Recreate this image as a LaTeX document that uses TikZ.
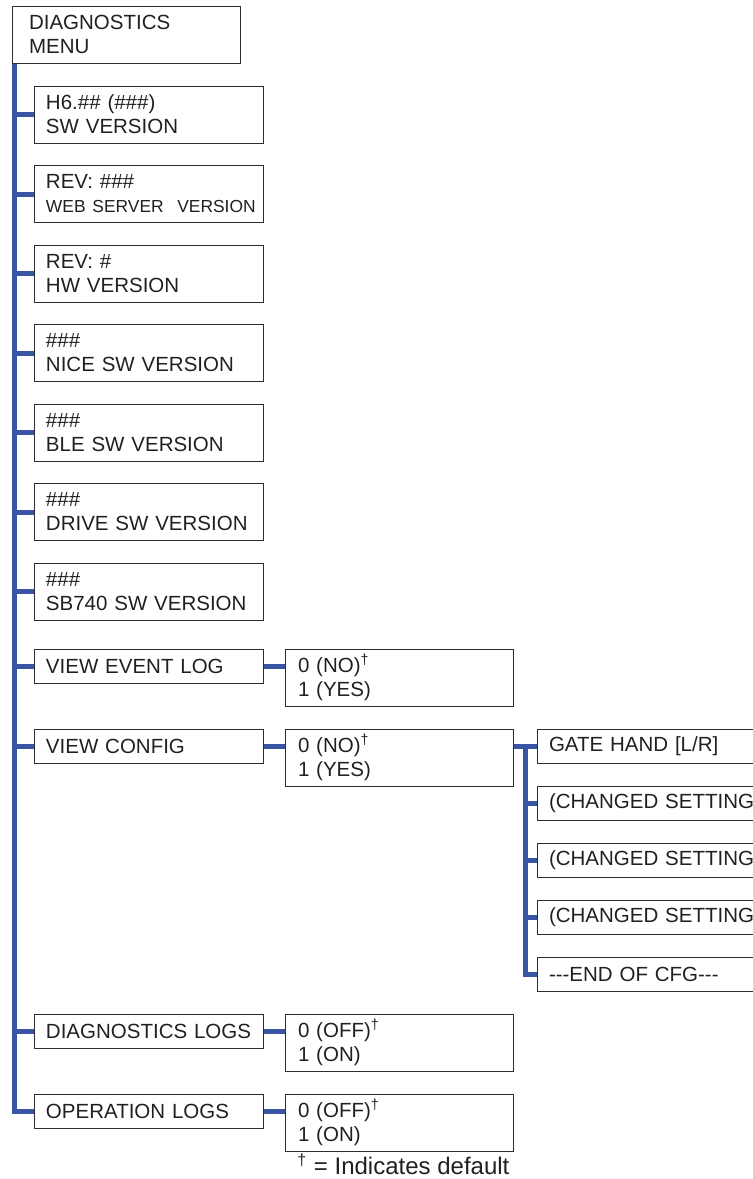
\documentclass[tikz,border=0pt]{standalone}
\usepackage{fontspec}
\setmainfont{Liberation Sans}
\usepackage{xcolor}
\usepackage{tikz}
\usetikzlibrary{positioning,backgrounds}
\definecolor{busblue}{RGB}{57,86,165}
\definecolor{boxgray}{RGB}{45,45,45}
\definecolor{inkgray}{RGB}{35,31,32}
\newcommand{\dflt}{\textsuperscript{†}}
\newcommand{\hy}{-\kern0pt}

\begin{document}
\begin{tikzpicture}[
  node distance=11.25pt,
  bus/.style={draw=busblue, line width=2.5pt},
  m/.style={draw=boxgray, line width=0.5pt, text=inkgray, align=left,
            font=\fontsize{10.25}{12}\selectfont, inner ysep=0pt, outer sep=0pt},
  two/.style={minimum height=28.5pt},
  one/.style={minimum height=17pt},
  item/.style={m, text width=102.5pt, inner xsep=6pt},
  val/.style={m, two, text width=101pt, inner xsep=6.5pt},
  cfgitem/.style={m, one, text width=120pt, inner xsep=6pt}]
\useasboundingbox (0,0) rectangle (376.5pt,-589.5pt);
\clip (0,0) rectangle (376.5pt,-589.5pt);
% main column
\node[m, two, text width=97pt, inner xsep=8.5pt, anchor=north west] (menu) at (6pt,-3pt) {DIAGNOSTICS\\MENU};
\node[item, two, anchor=north west] (swver) at (17pt,-43pt) {H6.\#\# (\#\#\#)\\SW VERSION};
\node[item, two, below=of swver] (websrv) {REV: \#\#\#\\\hbox{\fontsize{8.7}{12}\selectfont WEB SERVER\ \ VERSION}};
\node[item, two, below=of websrv] (hwver) {REV: \#\\HW VERSION};
\node[item, two, below=of hwver] (nicever) {\#\#\#\\NICE SW VERSION};
\node[item, two, below=of nicever] (blever) {\#\#\#\\BLE SW VERSION};
\node[item, two, below=of blever] (drvver) {\#\#\#\\DRIVE SW VERSION};
\node[item, two, below=of drvver] (sbver) {\#\#\#\\SB740 SW VERSION};
\node[item, one, below=14.5pt of sbver] (evtlog) {VIEW EVENT LOG};
\node[item, one, below=23pt of evtlog] (viewcfg) {VIEW CONFIG};
% values
\node[val, right=11pt of evtlog.north east, anchor=north west] (evtval) {0 (NO)\dflt\\1 (YES)};
\node[val, right=11pt of viewcfg.north east, anchor=north west] (cfgval) {0 (NO)\dflt\\1 (YES)};
% config list
\node[cfgitem, right=12pt of cfgval.north east, anchor=north west] (gatehand) {GATE HAND [L/R]};
\node[cfgitem, below=11.5pt of gatehand] (chg1) {(CHANGED SETTING};
\node[cfgitem, below=11.5pt of chg1] (chg2) {(CHANGED SETTING};
\node[cfgitem, below=11.5pt of chg2] (chg3) {(CHANGED SETTING};
\node[cfgitem, below=11.5pt of chg3] (cfgend) {\hy\hy\hy END OF CFG\hy\hy-};
% logs
\node[item, one, anchor=north west, yshift=-11.5pt] (diaglog) at (sbver.west |- cfgend.south) {\hbox{DIAGNOSTICS LOGS}};
\node[item, one, below=23pt of diaglog] (oplog) {OPERATION LOGS};
\node[val, right=11pt of diaglog.north east, anchor=north west] (diagval) {0 (OFF)\dflt\\1 (ON)};
\node[val, right=11pt of oplog.north east, anchor=north west] (opval) {0 (OFF)\dflt\\1 (ON)};
\node[text=inkgray, font=\fontsize{12}{14}\selectfont, inner sep=0pt, anchor=base west] (note)
  at ([xshift=6pt,yshift=-11.5pt]opval.south west) {\textsuperscript{†} = Indicates default};
% connectors
\begin{scope}[on background layer]
\coordinate (trunk) at ([xshift=1.25pt]menu.south west);
\draw[bus] (trunk) |- (oplog.west);
\foreach \n in {swver,websrv,hwver,nicever,blever,drvver,sbver,evtlog,viewcfg,diaglog}
  \draw[bus] (trunk |- \n.west) -- (\n.west);
\foreach \a/\b in {evtlog/evtval,viewcfg/cfgval,diaglog/diagval,oplog/opval}
  \draw[bus] (\a.east) -- (\a.east -| \b.west);
\coordinate (cfgbus) at ([xshift=6pt]cfgval.east);
\draw[bus] (cfgval.east |- gatehand.west) -- (gatehand.west);
\draw[bus] (cfgbus |- gatehand.west) |- (cfgend.west);
\foreach \n in {chg1,chg2,chg3}
  \draw[bus] (cfgbus |- \n.west) -- (\n.west);
\end{scope}
\end{tikzpicture}
\end{document}
